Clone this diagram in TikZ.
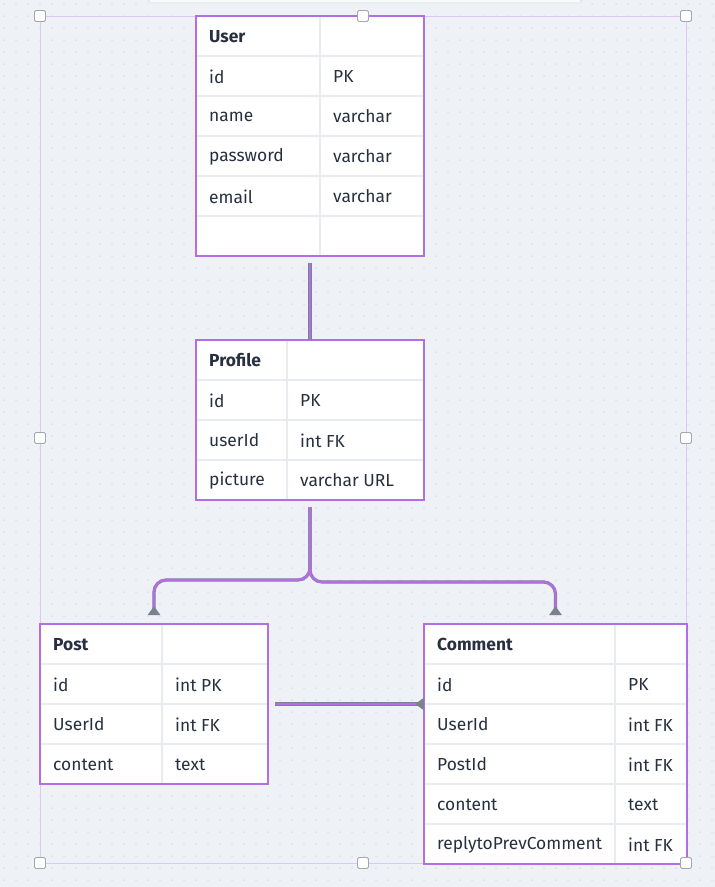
\documentclass[tikz,border=0pt]{standalone}
\usepackage{fontspec}
\setmainfont{Fira Sans}
\usetikzlibrary{arrows.meta}
\definecolor{bg}{HTML}{EEF2F6}
\definecolor{dotc}{HTML}{C9D1DB}
\definecolor{purp}{HTML}{B36EE6}
\definecolor{selc}{HTML}{DCC8F2}
\definecolor{cellline}{HTML}{E8ECF1}
\definecolor{txt}{HTML}{283040}
\definecolor{greyline}{HTML}{7C8190}
\definecolor{hbord}{HTML}{A3A8B0}
\tikzset{
  tablebox/.style={rectangle, fill=white, draw=none, inner sep=0pt, outer sep=0pt},
  cellrule/.style={cellline, line width=2pt},
  cell/.style={anchor=west, inner sep=0pt, text=txt, font=\fontsize{17.4}{20}\selectfont},
  headcell/.style={cell, font=\fontsize{17.4}{20}\selectfont\bfseries},
  handle/.style={rectangle, draw=hbord, fill=white, line width=0.8pt, minimum size=11pt, inner sep=0pt, rounded corners=1.5pt},
  under/.style={draw=greyline, line width=3.2pt},
  over/.style={draw=purp, line width=2.4pt},
  crowtip/.style={-{Triangle[reversed, length=9pt, width=12pt, color=greyline]}},
}
\newcommand\ertab[8]{%
  \node[tablebox, minimum width={#4-#2}, minimum height={#5-#3}] (#1) at ({(#2+#4)/2},{(#3+#5)/2}) {};
  \foreach [count=\k] \a/\b in {#8} {
    \pgfmathsetmacro\yy{#3+40*\k}
    \draw[cellrule] (#2,\yy) -- (#4,\yy);
    \node[cell] (#1-l\k) at (#2+13,\yy+20.5) {\a};
    \node[cell] (#1-r\k) at (#6+13,\yy+20.5) {\b};
  }
  \draw[cellrule] (#6,#3) -- (#6,#5);
  \node[headcell] (#1-h) at (#2+13,#3+20.5) {#7};
  \draw[purp, line width=2pt] (#1.north west) rectangle (#1.south east);
}
\begin{document}
\begin{tikzpicture}[x=1pt,y=-1pt]
\fill[bg] (0,0) rectangle (715,887);
\useasboundingbox (0,0) rectangle (715,887);
\foreach \i in {0,...,59} {
  \foreach \j in {0,...,73} {
    \fill[dotc] (4+12*\i,4+12*\j) circle (0.75);
  }
}
% top toolbar shadow
\shade[top color=black!10, bottom color=bg] (148,0) rectangle (582,4);
\fill[white!60!bg] (150,0) rectangle (580,1.5);
% selection rectangle
\draw[selc, line width=1pt] (40,16) rectangle (686,863);

\ertab{user}{196}{16}{424}{256}{320}{User}{id/PK, name/varchar, password/varchar, email/varchar, /}
\ertab{profile}{196}{340}{424}{500}{287}{Profile}{id/PK, userId/int FK, picture/varchar URL}
\ertab{post}{40}{624}{268}{784}{162}{Post}{id/int PK, UserId/int FK, content/text}
\ertab{comment}{424}{624}{687}{864}{615}{Comment}{id/PK, UserId/int FK, PostId/int FK, content/text, replytoPrevComment/int FK}

% connectors
\coordinate (us) at ([yshift=-7pt]user.south);
\coordinate (ps) at ([yshift=-7pt]profile.south);
\draw[under] (us) -- (profile.north);
\draw[over] (us) -- (profile.north);

\coordinate (postin) at ([yshift=9pt]post.north);
\coordinate (comin) at ([yshift=9pt]comment.north);
\draw[under, crowtip, rounded corners=12pt] (ps) |- ([yshift=35pt]postin) -- (postin);
\draw[under, crowtip, rounded corners=12pt] (ps) |- ([yshift=33pt]comin) -- (comin);
\draw[over, rounded corners=12pt, shorten >=8pt] (ps) |- ([yshift=33pt]comin) -- (comin);
\draw[over, rounded corners=12pt, shorten >=8pt] (ps) |- ([yshift=35pt]postin) -- (postin);

\coordinate (pe) at ([xshift=7pt]post.east);
\draw[under, crowtip] (pe) -- (post.east -| comment.west);
\draw[over, shorten >=8pt] (pe) -- (post.east -| comment.west);

% handles
\node[handle] (h1) at (40,16) {};
\node[handle] (h2) at (363,16) {};
\node[handle] (h3) at (686,16) {};
\node[handle] (h4) at (40,438) {};
\node[handle] (h5) at (686,438) {};
\node[handle] (h6) at (40,863) {};
\node[handle] (h7) at (363,863) {};
\node[handle] (h8) at (686,863) {};
\end{tikzpicture}
\end{document}
